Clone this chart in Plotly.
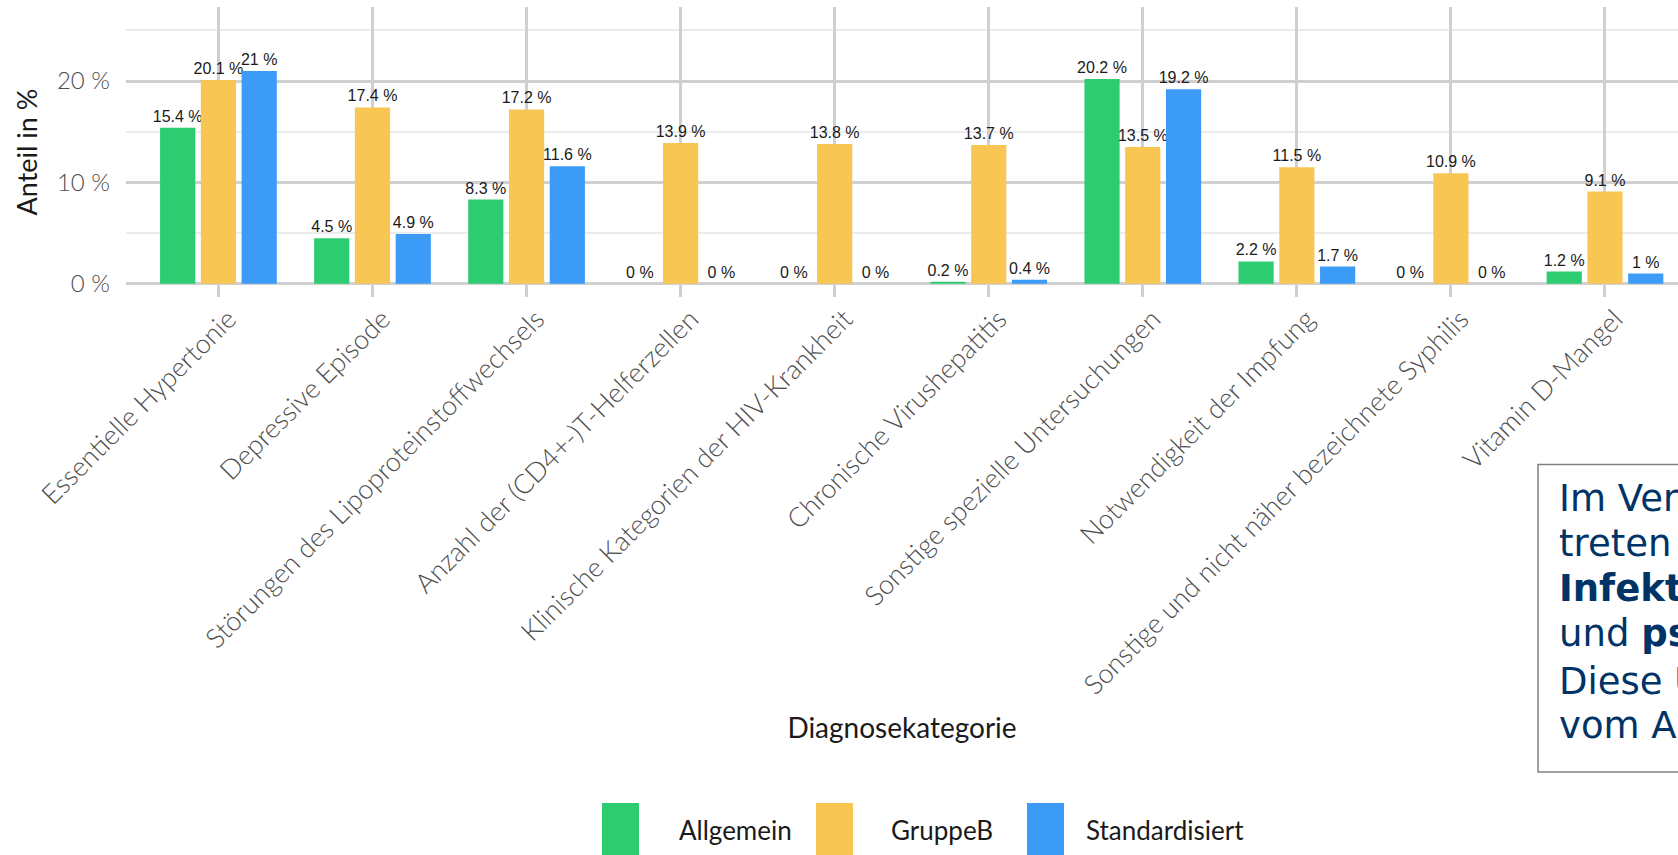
import plotly.graph_objects as go

# ---------------- data ----------------
categories = [
    "Essentielle Hypertonie",
    "Depressive Episode",
    "Störungen des Lipoproteinstoffwechsels",
    "Anzahl der (CD4+-)T-Helferzellen",
    "Klinische Kategorien der HIV-Krankheit",
    "Chronische Virushepatitis",
    "Sonstige spezielle Untersuchungen",
    "Notwendigkeit der Impfung",
    "Sonstige und nicht näher bezeichnete Syphilis",
    "Vitamin D-Mangel",
]
series_names = ["Allgemein", "GruppeB", "Standardisiert"]
allgemein = [15.4, 4.5, 8.3, 0, 0, 0.2, 20.2, 2.2, 0, 1.2]
gruppeb = [20.1, 17.4, 17.2, 13.9, 13.8, 13.7, 13.5, 11.5, 10.9, 9.1]
standardisiert = [21, 4.9, 11.6, 0, 0, 0.4, 19.2, 1.7, 0, 1]
y_tickvals = [0, 10, 20]
y_ticktext = ["0 %", "10 %", "20 %"]

info_lines = [
    "Im Vergleich zur Allgemeinbevölkerung",
    "treten  in GruppeB deutlich häufiger",
    "<b>Infektionskrankheiten</b>",
    "und <b>psychische Erkrankungen</b> auf.",
    "Diese Unterschiede bleiben auch",
    "vom Alter unabhängig bestehen.",
]

colors = ["#2ECC71", "#F8C653", "#3D9BF8"]

# ---------------- geometry helpers (pixel -> paper) ----------------
W, H = 1678, 855
L, R, T, B = 126, 1678, 7, 297
def px_x(p):
    return (p - L) / (R - L)
def px_y(p):
    return (B - p) / (B - T)

fig = go.Figure()
for name, vals, col in zip(series_names, [allgemein, gruppeb, standardisiert], colors):
    fig.add_trace(go.Bar(
        name=name,
        x=categories,
        y=vals,
        marker=dict(color=col, line=dict(width=0)),
        text=[f"{v:g} %" for v in vals],
        textposition="outside",
        constraintext="none",
        cliponaxis=False,
        textfont=dict(family="Liberation Sans Narrow, Liberation Sans, Arial, sans-serif", size=16, color="#1A1A1A"),
        showlegend=False,
    ))

fig.update_layout(
    width=W, height=H,
    margin=dict(l=L, r=W - R, t=T, b=H - B),
    paper_bgcolor="white",
    plot_bgcolor="white",
    barmode="group",
    bargap=0.206,
    bargroupgap=0.137,
    showlegend=False,
    font=dict(family="Lato, sans-serif"),
)

fig.update_xaxes(
    type="category",
    range=[-0.6, 9.474],
    showgrid=True, gridcolor="#D0D0D0", gridwidth=2.7,
    showline=False, zeroline=False, ticks="",
    tickangle=-45,
    tickfont=dict(family="Lato", size=27, color="#4D4D4D", weight=300),
    ticklabelstandoff=0,
    ticklabelshift=10,
    title=dict(text="Diagnosekategorie", font=dict(family="Lato", size=28, color="#1A1A1A"), standoff=18),
)
fig.update_yaxes(
    range=[-1.31, 27.31],
    tickvals=y_tickvals, ticktext=y_ticktext,
    showgrid=True, gridcolor="#D0D0D0", gridwidth=2.7,
    minor=dict(dtick=5, tick0=0, showgrid=True, gridcolor="#EBEBEB", gridwidth=1.6),
    zeroline=False, showline=False, ticks="",
    tickfont=dict(family="Lato", size=24, color="#4D4D4D", weight=300),
    ticklabelstandoff=15,
    title=dict(text="Anteil in %", font=dict(family="Lato", size=27, color="#1A1A1A"), standoff=11),
)

# ---------------- legend (drawn manually with large keys) ----------------
key_left = [602, 816, 1027]
text_left = [677, 889, 1084]
shapes = []
annotations = []
for i, name in enumerate(series_names):
    shapes.append(dict(
        type="rect", xref="paper", yref="paper",
        x0=px_x(key_left[i]), x1=px_x(key_left[i] + 37),
        y0=px_y(803), y1=px_y(870),
        fillcolor=colors[i], line=dict(width=0), layer="above",
    ))
    annotations.append(dict(
        xref="paper", yref="paper", x=px_x(text_left[i]), y=px_y(830),
        xanchor="left", yanchor="middle", showarrow=False,
        text=name, font=dict(family="Lato", size=26, color="#1A1A1A"),
    ))

# ---------------- info box on the right (cut off by window edge) ----------------
shapes.append(dict(
    type="rect", xref="paper", yref="paper",
    x0=px_x(1538), x1=px_x(1900), y0=px_y(772), y1=px_y(464.5),
    fillcolor="white", line=dict(color="#808080", width=1.5), layer="above",
))
box_font = dict(family="DejaVu Sans, Verdana, sans-serif", size=37, color="#003366")
line_centers = [498, 543, 588, 633, 681, 726]
for txt, yc in zip(info_lines, line_centers):
    annotations.append(dict(
        xref="paper", yref="paper", x=px_x(1557), y=px_y(yc),
        xanchor="left", yanchor="middle", align="left", showarrow=False,
        text=txt, font=box_font,
    ))

fig.update_layout(shapes=shapes, annotations=annotations)
fig.write_html("out.html")
